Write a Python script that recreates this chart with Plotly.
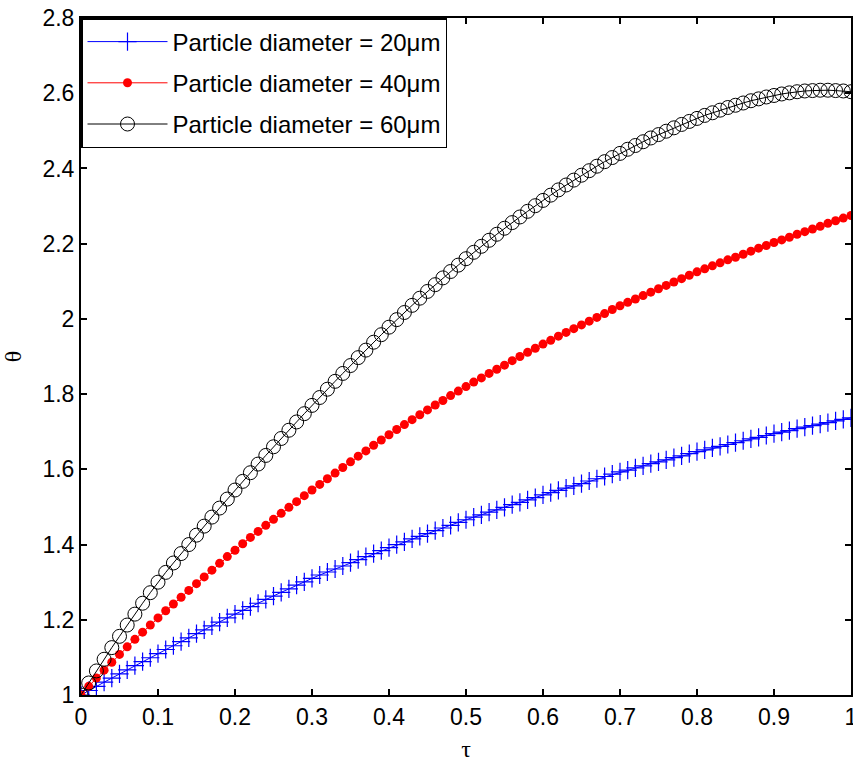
import plotly.graph_objects as go

# dimensionless time grid (step 0.01)
tau = [round(i * 0.01, 2) for i in range(101)]

# theta for particle diameter = 20 um
theta_20 = [
    1.000, 1.012, 1.023, 1.034, 1.045, 1.056, 1.067, 1.078, 1.089, 1.099,
    1.110, 1.121, 1.131, 1.142, 1.152, 1.163, 1.173, 1.184, 1.194, 1.205,
    1.215, 1.225, 1.235, 1.244, 1.254, 1.263, 1.273, 1.282, 1.292, 1.301,
    1.310, 1.319, 1.327, 1.335, 1.343, 1.352, 1.360, 1.368, 1.376, 1.384,
    1.392, 1.400, 1.407, 1.415, 1.422, 1.429, 1.437, 1.444, 1.451, 1.459,
    1.466, 1.473, 1.479, 1.486, 1.492, 1.499, 1.506, 1.512, 1.519, 1.525,
    1.532, 1.538, 1.544, 1.550, 1.556, 1.562, 1.569, 1.575, 1.581, 1.587,
    1.593, 1.598, 1.604, 1.609, 1.615, 1.620, 1.625, 1.631, 1.636, 1.642,
    1.647, 1.652, 1.657, 1.661, 1.666, 1.671, 1.676, 1.681, 1.685, 1.690,
    1.695, 1.699, 1.703, 1.708, 1.712, 1.716, 1.720, 1.724, 1.729, 1.733,
    1.737,
]

# theta for particle diameter = 40 um
theta_40 = [
    1.000, 1.023, 1.045, 1.066, 1.087, 1.108, 1.128, 1.148, 1.167, 1.186,
    1.205, 1.224, 1.242, 1.260, 1.278, 1.296, 1.314, 1.332, 1.350, 1.368,
    1.385, 1.402, 1.419, 1.435, 1.451, 1.467, 1.483, 1.499, 1.514, 1.530,
    1.545, 1.560, 1.575, 1.590, 1.605, 1.620, 1.635, 1.649, 1.664, 1.678,
    1.692, 1.706, 1.719, 1.732, 1.745, 1.758, 1.771, 1.783, 1.796, 1.808,
    1.820, 1.832, 1.843, 1.855, 1.866, 1.877, 1.889, 1.900, 1.911, 1.922,
    1.933, 1.943, 1.954, 1.964, 1.974, 1.984, 1.994, 2.004, 2.014, 2.025,
    2.035, 2.044, 2.053, 2.062, 2.071, 2.080, 2.089, 2.098, 2.107, 2.116,
    2.125, 2.133, 2.141, 2.149, 2.157, 2.164, 2.172, 2.180, 2.188, 2.195,
    2.203, 2.210, 2.217, 2.225, 2.232, 2.239, 2.246, 2.254, 2.261, 2.268,
    2.275,
]

# theta for particle diameter = 60 um
theta_60 = [
    1.000, 1.032, 1.064, 1.095, 1.126, 1.156, 1.186, 1.215, 1.244, 1.272,
    1.300, 1.326, 1.351, 1.376, 1.400, 1.425, 1.449, 1.473, 1.497, 1.521,
    1.545, 1.568, 1.591, 1.614, 1.637, 1.660, 1.682, 1.704, 1.726, 1.748,
    1.770, 1.791, 1.813, 1.834, 1.855, 1.876, 1.897, 1.917, 1.938, 1.958,
    1.978, 1.998, 2.017, 2.036, 2.055, 2.073, 2.091, 2.109, 2.126, 2.143,
    2.160, 2.177, 2.193, 2.209, 2.225, 2.241, 2.256, 2.271, 2.286, 2.301,
    2.315, 2.329, 2.343, 2.356, 2.369, 2.382, 2.394, 2.406, 2.418, 2.429,
    2.440, 2.451, 2.461, 2.471, 2.481, 2.490, 2.499, 2.508, 2.517, 2.525,
    2.533, 2.541, 2.548, 2.555, 2.562, 2.568, 2.574, 2.580, 2.585, 2.590,
    2.594, 2.598, 2.601, 2.604, 2.606, 2.607, 2.608, 2.608, 2.607, 2.606,
    2.604,
]

labels = [
    "Particle diameter = 20\u03bcm",
    "Particle diameter = 40\u03bcm",
    "Particle diameter = 60\u03bcm",
]

x_ticks = [round(i * 0.1, 1) for i in range(11)]
x_ticktext = ["0", "0.1", "0.2", "0.3", "0.4", "0.5", "0.6", "0.7", "0.8", "0.9", "1"]
y_ticks = [1.0, 1.2, 1.4, 1.6, 1.8, 2.0, 2.2, 2.4, 2.6, 2.8]
y_ticktext = ["1", "1.2", "1.4", "1.6", "1.8", "2", "2.2", "2.4", "2.6", "2.8"]

fig = go.Figure()

fig.add_trace(go.Scatter(
    x=tau, y=theta_20, name=labels[0], mode="lines+markers", legendgroup="a",
    line=dict(color="#0000ff", width=1),
    marker=dict(symbol="cross-thin", size=13, color="#0000ff",
                line=dict(color="#0000ff", width=1.2)),
))
fig.add_trace(go.Scatter(
    x=tau, y=theta_40, name=labels[1], mode="lines+markers", legendgroup="b",
    line=dict(color="#ff0000", width=1),
    marker=dict(symbol="circle", size=9, color="#ff0000"),
))
fig.add_trace(go.Scatter(
    x=tau, y=theta_60, name=labels[2], mode="lines+markers", legendgroup="c",
    line=dict(color="#000000", width=1),
    marker=dict(symbol="circle-open", size=14, color="#000000",
                line=dict(color="#000000", width=1)),
))

axis_common = dict(
    showline=True, linecolor="black", linewidth=2, mirror="ticks",
    ticks="inside", ticklen=6, tickwidth=1.5, tickcolor="black",
    showgrid=False, zeroline=False, automargin=False,
    tickfont=dict(family="Liberation Sans, Arial, sans-serif", size=23, color="black"),
)

fig.update_xaxes(
    range=[0, 1], tickvals=x_ticks, ticktext=x_ticktext, ticklabeloverflow="allow",
    title=dict(text="\u03c4", font=dict(family="Liberation Serif, Times New Roman, serif",
                                         size=24, color="black"), standoff=12),
    **axis_common,
)
fig.update_yaxes(
    range=[1, 2.8], tickvals=y_ticks, ticktext=y_ticktext,
    title=dict(text="\u03b8", font=dict(family="Liberation Serif, Times New Roman, serif",
                                         size=24, color="black"), standoff=22),
    **axis_common,
)

fig.update_layout(
    width=853, height=765,
    margin=dict(l=81, r=2, t=18, b=70),
    paper_bgcolor="white", plot_bgcolor="white",
    showlegend=True,
    legend=dict(
        x=0, y=1, xanchor="left", yanchor="top",
        bgcolor="white", bordercolor="black", borderwidth=1.5,
        font=dict(family="Liberation Sans, Arial, sans-serif", size=24, color="black"),
        itemwidth=80, tracegroupgap=7, traceorder="grouped",
    ),
)

fig.write_html("out.html")
